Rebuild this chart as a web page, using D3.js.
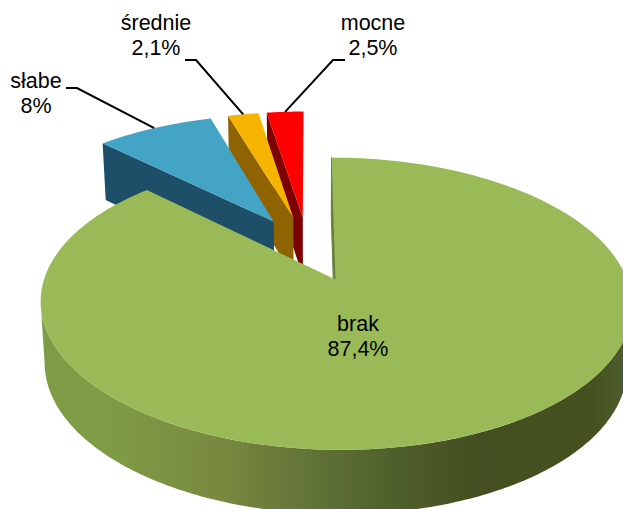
<!DOCTYPE html>
<html lang="pl">
<head>
<meta charset="utf-8">
<title>Wykres kołowy</title>
<script src="https://cdnjs.cloudflare.com/ajax/libs/d3/7.8.5/d3.min.js"></script>
<style>
  html, body { margin: 0; padding: 0; background: #fff; overflow: hidden; }
  svg { display: block; }
  text { font-family: "Liberation Sans", Arial, sans-serif; font-size: 21.5px; fill: #000; text-anchor: middle; }
</style>
</head>
<body>
<svg id="chart" width="623" height="509"></svg>
<script>
// Share of each strength category, in percent.
const categories = ["brak", "słabe", "średnie", "mocne"];
const shares = [87.4, 8, 2.1, 2.5];
const shareLabels = ["87,4%", "8%", "2,1%", "2,5%"];

const topColors = ["#99ba57", "#44a4c6", "#f4b400", "#ff0000"];
const wallColors = ["#66803a", "#1d4f68", "#8f6400", "#7c0000"];

// Label placement: centre x, first baseline y, and the elbow of the leader line.
const labelX = [358, 36, 156, 373];
const labelY = [331, 88, 30, 30];
const leaderStart = [null, [66, 88], [185, 60], [345, 60]];
const leaderElbow = [null, [77, 88], [196, 60], [333, 60]];

// Perspective pie: disc coordinates (u right, v away from the viewer) map to the screen.
const perspective = 0.16;
const explode = 0.245;
const depth = 60;
const depthFalloff = 0.06;
const bottomShrink = 0.985;
const xScale = d3.scaleLinear().domain([0, 1]).range([308, 589]);
const yScale = d3.scaleLinear().domain([0, 1]).range([248.5, 116.5]);

function project(u, v, z) {
  const w = 1 + perspective * v;
  const x = xScale(u / w);
  const y = yScale(v / w);
  return z
    ? [xScale(0) + (x - xScale(0)) * bottomShrink, y + depth * (1 - depthFalloff * v)]
    : [x, y];
}

const arcs = d3.pie().sort(null).value(d => d)(shares);
const slices = arcs.map((a, i) => {
  const mid = (a.startAngle + a.endAngle) / 2;
  return {
    i,
    start: a.startAngle,
    end: a.endAngle,
    mid,
    cu: explode * Math.sin(mid),
    cv: explode * Math.cos(mid)
  };
});

function rimPoint(s, angle, z) {
  return project(s.cu + Math.sin(angle), s.cv + Math.cos(angle), z);
}
function apexPoint(s, z) {
  return project(s.cu, s.cv, z);
}
function rim(s, from, to, z) {
  return d3.range(0, 181).map(k => rimPoint(s, from + (to - from) * k / 180, z));
}

const line = d3.line();
const closed = pts => line(pts) + "Z";
const svg = d3.select("#chart");

// Horizontal shading of the large slice's outer wall.
const shade = svg.append("defs").append("linearGradient")
  .attr("id", "wallShade")
  .attr("gradientUnits", "userSpaceOnUse")
  .attr("x1", 40).attr("x2", 623).attr("y1", 0).attr("y2", 0);
[[0, "#7d9d45"], [0.14, "#7f9a45"], [0.31, "#78893f"], [0.45, "#647538"], [0.61, "#4f5f2b"], [0.75, "#434f20"], [0.95, "#45521f"], [1, "#4d5c2c"]]
  .forEach(([o, c]) => shade.append("stop").attr("offset", o).attr("stop-color", c));

// Painted back to front: the small slices first, the large slice last.
[3, 2, 1, 0].forEach(i => {
  const s = slices[i];
  const g = svg.append("g").attr("class", "slice-" + i);

  if (i === 0) {
    // Outer wall runs between the two points where the rim turns away from the viewer.
    const from = Math.PI * 0.55, to = Math.PI * 1.45;
    g.append("path")
      .attr("d", closed(rim(s, from, to, 0).concat(rim(s, to, from, 1))))
      .attr("fill", "url(#wallShade)");
    // Cut face on the right-hand edge of the gap.
    g.append("path")
      .attr("d", closed([apexPoint(s, 0), rimPoint(s, s.start, 0), rimPoint(s, s.start, 1), apexPoint(s, 1)]))
      .attr("fill", wallColors[i]).attr("stroke", wallColors[i]).attr("stroke-width", 1);
  } else {
    // Cut face on the left edge of each pulled-out slice.
    g.append("path")
      .attr("d", closed([apexPoint(s, 0), rimPoint(s, s.start, 0), rimPoint(s, s.start, 1), apexPoint(s, 1)]))
      .attr("fill", wallColors[i]);
  }

  // Top face.
  g.append("path")
    .attr("d", closed([apexPoint(s, 0)].concat(rim(s, s.start, s.end, 0))))
    .attr("fill", topColors[i]);
});

// Leader lines end on the rim at the middle of each small slice.
slices.forEach(s => {
  if (!leaderStart[s.i]) return;
  svg.append("path")
    .attr("d", line([leaderStart[s.i], leaderElbow[s.i], rimPoint(s, s.mid, 0)]))
    .attr("fill", "none").attr("stroke", "#000").attr("stroke-width", 2);
});

// Two-line labels: category name above its share.
categories.forEach((name, i) => {
  const t = svg.append("text").attr("class", "label");
  t.append("tspan").attr("x", labelX[i]).attr("y", labelY[i]).text(name);
  t.append("tspan").attr("x", labelX[i]).attr("y", labelY[i] + 24.5).text(shareLabels[i]);
});
</script>
</body>
</html>
